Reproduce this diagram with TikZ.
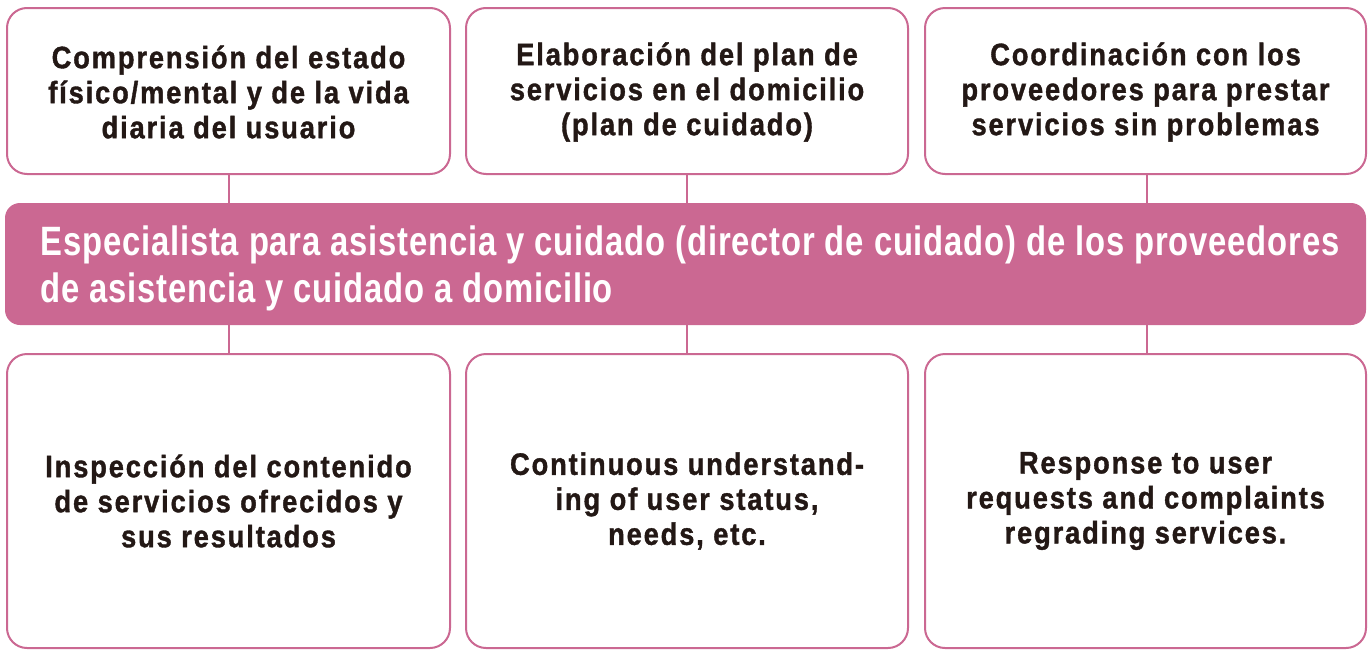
\documentclass[tikz,border=0pt]{standalone}
\usepackage{fontspec}
\setmainfont{Liberation Sans}
\newfontfamily\boxfont[FakeStretch=0.88,LetterSpace=6,FakeBold=1.2]{Liberation Sans Bold}
\newfontfamily\barfont[FakeStretch=0.80,LetterSpace=2]{Liberation Sans Bold}
\definecolor{pinkline}{HTML}{CB6892}
\definecolor{txt}{HTML}{231815}
\begin{document}
\begin{tikzpicture}[x=1pt,y=-1pt,
  card/.style={draw=pinkline,line width=2pt,rounded corners=20pt,fill=white},
  cardtext/.style={text=txt,align=center,font=\boxfont\fontsize{31}{35}\selectfont},
  link/.style={draw=pinkline,line width=2pt}]
\useasboundingbox (0,0) rectangle (1368,651);
% top cards
\draw[card] (7,8) rectangle (450,174);
\draw[card] (466,8) rectangle (908,174);
\draw[card] (925,8) rectangle (1366,174);
\node[cardtext] (t1) at (228.5,92) {Comprensión del estado\\físico/mental y de la vida\\diaria del usuario};
\node[cardtext] (t2) at (687,92) {Elaboración del plan de\\servicios en el domicilio\\(plan de cuidado)};
\node[cardtext] (t3) at (1145.5,92) {Coordinación con los\\proveedores para prestar\\servicios sin problemas};
% bar
\fill[pinkline,rounded corners=15pt] (5,203) rectangle (1366,325);
\node[anchor=west,text=white,align=left,font=\barfont\fontsize{41}{47}\selectfont] (bar) at (37,268) {Especialista para asistencia y cuidado (director de cuidado) de los proveedores\\de asistencia y cuidado a domicilio};
% bottom cards
\draw[card] (7,354) rectangle (450,648);
\draw[card] (466,354) rectangle (908,648);
\draw[card] (925,354) rectangle (1366,648);
\node[cardtext] (b1) at (228.5,501) {Inspección del contenido\\de servicios ofrecidos y\\sus resultados};
\node[cardtext] (b2) at (687,501) {Continuous understand-\\ing of user status,\\needs, etc.};
\node[cardtext] (b3) at (1145.5,501) {Response to user\\requests and complaints\\regrading services.};
% links
\coordinate (u1a) at (229,174); \coordinate (u1b) at (229,203);
\coordinate (u2a) at (687,174); \coordinate (u2b) at (687,203);
\coordinate (u3a) at (1147,174); \coordinate (u3b) at (1147,203);
\coordinate (d1a) at (229,325); \coordinate (d1b) at (229,354);
\coordinate (d2a) at (687,325); \coordinate (d2b) at (687,354);
\coordinate (d3a) at (1147,325); \coordinate (d3b) at (1147,354);
\draw[link] (u1a) -- (u1b); \draw[link] (u2a) -- (u2b); \draw[link] (u3a) -- (u3b);
\draw[link] (d1a) -- (d1b); \draw[link] (d2a) -- (d2b); \draw[link] (d3a) -- (d3b);
\end{tikzpicture}
\end{document}
